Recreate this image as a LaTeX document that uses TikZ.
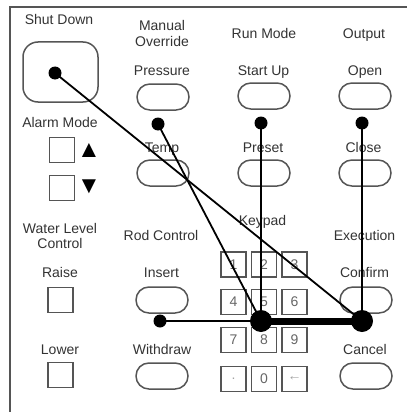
\documentclass[tikz,border=0pt]{standalone}
\usepackage{fontspec}
\setmainfont{Liberation Sans}
\usetikzlibrary{positioning}
\definecolor{panel}{HTML}{555555}
\definecolor{ink}{HTML}{333333}

\begin{document}
\begin{tikzpicture}[x=1pt,y=-1pt,
 lbl/.style={anchor=base,inner sep=0pt,text=ink,font=\fontsize{14}{16}\selectfont},
 btn/.style={draw=panel,line width=1.5pt,rounded corners=12.9pt,minimum width=52pt,minimum height=26pt,inner sep=0pt},
 sq/.style={draw=panel,line width=1.5pt,minimum size=25pt,inner sep=0pt},
 keybox/.style={sq,text=ink!75,font=\fontsize{14}{16}\selectfont},
 arr/.style={anchor=base,inner sep=0pt,text=black,font=\fontsize{24}{26}\selectfont},
 dot/.style={circle,fill=black,minimum size=13pt,inner sep=0pt},
 bigdot/.style={circle,fill=black,minimum size=22pt,inner sep=0pt},
 wire/.style={line width=1.8pt}]
\useasboundingbox (0,0) rectangle (407,412);
\draw[panel,line width=1.5pt] (10,412) -- (10,7) -- (407,7);
\node[lbl] (tsd) at (59,25) {Shut Down};
\node[draw=panel,line width=1.5pt,rounded corners=15pt,minimum width=75pt,minimum height=60pt] (sd) at (60.5,72) {};
\node[lbl] (tam) at (60,127) {Alarm Mode};
\node[sq] (aup) at (62,150) {}; \node[sq] (adn) at (62,188) {};
\node[arr] (tup) at (89,157) {▲};
\node[arr] (tdn) at (89,193) {▼};
\node[lbl] (tman) at (162,30.5) {Manual}; \node[lbl] (tovr) at (162,46.5) {Override};
\node[lbl] (tprs) at (162,75) {Pressure}; \node[btn] (prs) at (163,97) {};
\node[lbl] (ttmp) at (162,152) {Temp}; \node[btn] (tmp) at (163,173) {};
\node[lbl] (trun) at (264,38) {Run Mode}; \node[lbl] (tout) at (364,38) {Output};
\node[lbl] (tstu) at (263.5,75.5) {Start Up}; \node[btn] (stu) at (264,96) {};
\node[lbl] (topn) at (365,75.5) {Open}; \node[btn] (opn) at (365,96) {};
\node[lbl] (tpre) at (263,152) {Preset}; \node[btn] (pre) at (264,173) {};
\node[lbl] (tcls) at (363.5,152) {Close}; \node[btn] (cls) at (365,173) {};
\node[lbl] (twl) at (60,233) {Water Level}; \node[lbl] (tctl) at (60,248.5) {Control};
\node[lbl] (trod) at (161,240) {Rod Control};
\node[lbl] (tkey) at (262.5,225) {Keypad};
\node[lbl] (texe) at (364.5,240) {Execution};
\node[lbl] (trai) at (60,277) {Raise}; \node[sq] (rai) at (60.5,300) {};
\node[lbl] (tins) at (161.5,277) {Insert}; \node[btn] (ins) at (162,300) {};
\node[lbl] (tcnf) at (364.5,277) {Confirm}; \node[btn] (cnf) at (366,300) {};
\node[lbl] (tlow) at (60,354.5) {Lower}; \node[sq] (low) at (60.5,375) {};
\node[lbl] (twd) at (162,354.5) {Withdraw}; \node[btn] (wd) at (162,376) {};
\node[lbl] (tcan) at (365,354.5) {Cancel}; \node[btn] (can) at (366,376) {};
\node[keybox] (k1) at (233.5,264.5) {1}; \node[keybox] (k2) at (264,264.5) {2}; \node[keybox] (k3) at (294.5,264.5) {3};
\node[keybox] (k4) at (233.5,302) {4}; \node[keybox] (k5) at (264,302) {5}; \node[keybox] (k6) at (294.5,302) {6};
\node[keybox] (k7) at (233.5,340) {7}; \node[keybox] (k8) at (264,340) {8}; \node[keybox] (k9) at (294.5,340) {9};
\node[keybox,text=ink!45] (kpt) at (233.5,379) {.}; \node[keybox] (k0) at (264,379) {0}; \node[keybox,text=ink!45] (kbk) at (294.5,379) {←};
\node[dot] (dsd) at (55,73) {};
\node[dot] (dprs) at (158,124) {};
\node[dot] (dstu) at (261,123) {};
\node[dot] (dopn) at (362,123) {};
\node[dot] (dins) at (160,321) {};
\node[bigdot] (hubl) at (261,321) {};
\node[bigdot] (hubr) at (362,321) {};
\draw[wire] (dsd.center) -- (hubr.center);
\draw[wire] (dprs.center) -- (hubl.center);
\draw[wire] (dstu.center) -- (hubl.center);
\draw[wire] (dopn.center) -- (hubr.center);
\draw[wire] (dins.center) -- (hubl.center);
\draw[line width=7pt] (hubl.center) -- (hubr.center);
\end{tikzpicture}
\end{document}
